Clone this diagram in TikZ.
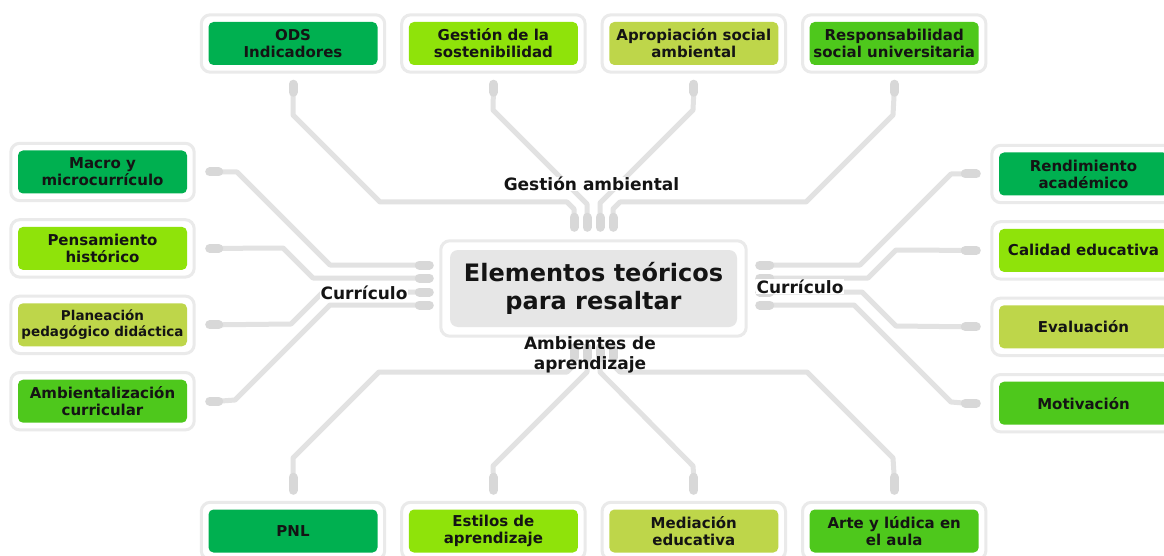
\documentclass[tikz,border=0pt]{standalone}
\usepackage{fontspec}
\setmainfont{DejaVu Sans}
\usetikzlibrary{positioning,fit,calc}

\definecolor{leafdark}{HTML}{00B050}
\definecolor{leaflime}{HTML}{8FE30A}
\definecolor{leafolive}{HTML}{BED64A}
\definecolor{leafgreen}{HTML}{4EC81C}
\definecolor{wire}{HTML}{E2E2E2}
\definecolor{pinwire}{HTML}{D8D8D8}
\definecolor{framegray}{HTML}{EAEAEA}
\definecolor{hubgray}{HTML}{E6E6E6}
\definecolor{ink}{HTML}{141414}

\begin{document}
\begin{tikzpicture}[
  x=1pt,
  y=-1pt,
  leafframe/.style={
    rectangle,
    draw=framegray,
    line width=3pt,
    inner sep=7pt,
    rounded corners=9pt
  },
  leaf/.style={
    rectangle,
    text=ink,
    minimum width=169pt,
    minimum height=43pt,
    inner sep=1pt,
    font=\fontsize{15}{17}\selectfont\bfseries,
    align=center,
    rounded corners=5pt,
    append after command={
      \pgfextra{\let\leafnode=\tikzlastnode}
      node[leafframe, fit=(\leafnode)] {}
    }
  },
  smallleaf/.style={
    leaf,
    font=\fontsize{13.5}{16}\selectfont\bfseries
  },
  hubbox/.style={
    rectangle,
    fill=hubgray,
    text=ink,
    minimum width=287pt,
    minimum height=77pt,
    font=\fontsize{24}{28}\selectfont\bfseries,
    align=center,
    rounded corners=8pt
  },
  hubtag/.style={
    text=ink,
    inner sep=0.5pt,
    font=\fontsize{17}{20}\selectfont\bfseries,
    align=center
  },
  wireline/.style={
    draw=wire,
    line width=5pt,
    line join=round
  },
  pinline/.style={
    draw=pinwire,
    line width=9pt,
    line cap=round
  }
]

% Canvas
\useasboundingbox (0,0) rectangle (1164,556);
\clip (0,0) rectangle (1164,556);
\fill[white] (0,0) rectangle (1164,556);

% Central node
\node[hubbox] (hub) at (593.5,288.5) {Elementos teóricos\\para resaltar};
\node[leafframe, inner sep=9pt, fit=(hub)] (hubframe) {};

% Top row: gestion ambiental
\node[leaf, fill=leafdark] (ods) at (293,43.5) {ODS\\Indicadores};
\node[leaf, fill=leaflime, right=31pt of ods] (sost) {Gestión de la\\sostenibilidad};
\node[leaf, fill=leafolive, right=31pt of sost] (aprop) {Apropiación social\\ambiental};
\node[leaf, fill=leafgreen, right=31pt of aprop] (resp) {Responsabilidad\\social universitaria};

% Left column: curriculo
\node[leaf, fill=leafdark] (macro) at (102.5,172) {Macro y\\microcurrículo};
\node[leaf, fill=leaflime, below=33pt of macro] (pens) {Pensamiento\\histórico};
\node[smallleaf, fill=leafolive, below=33pt of pens] (plan) {Planeación\\pedagógico didáctica};
\node[leaf, fill=leafgreen, below=33pt of plan] (amb) {Ambientalización\\curricular};

% Right column: curriculo
\node[leaf, fill=leafdark] (rend) at (1083.5,174) {Rendimiento\\académico};
\node[leaf, fill=leaflime, below=33pt of rend] (cal) {Calidad educativa};
\node[leaf, fill=leafolive, below=33pt of cal] (eval) {Evaluación};
\node[leaf, fill=leafgreen, below=33pt of eval] (mot) {Motivación};

% Bottom row: ambientes de aprendizaje
\node[leaf, fill=leafdark] (pnl) at (293,531) {PNL};
\node[leaf, fill=leaflime, right=31pt of pnl] (estilos) {Estilos de\\aprendizaje};
\node[leaf, fill=leafolive, right=31pt of estilos] (mediacion) {Mediación\\educativa};
\node[leaf, fill=leafgreen, right=31pt of mediacion] (arte) {Arte y lúdica en\\el aula};

% Pin ends on the leaves
\coordinate (odsP) at ($(ods.south)+(0,27)$);
\coordinate (sostP) at ($(sost.south)+(0,27)$);
\coordinate (apropP) at ($(aprop.south)+(0,27)$);
\coordinate (respP) at ($(resp.south)+(0,27)$);
\coordinate (macroP) at ($(macro.east)+(31.5,0)$);
\coordinate (pensP) at ($(pens.east)+(31.5,0)$);
\coordinate (planP) at ($(plan.east)+(31.5,0)$);
\coordinate (ambP) at ($(amb.east)+(31.5,0)$);
\coordinate (rendP) at ($(rend.west)+(-33.5,0)$);
\coordinate (calP) at ($(cal.west)+(-33.5,0)$);
\coordinate (evalP) at ($(eval.west)+(-33.5,0)$);
\coordinate (motP) at ($(mot.west)+(-33.5,0)$);
\coordinate (pnlP) at ($(pnl.north)+(0,-32)$);
\coordinate (estilosP) at ($(estilos.north)+(0,-32)$);
\coordinate (mediacionP) at ($(mediacion.north)+(0,-32)$);
\coordinate (arteP) at ($(arte.north)+(0,-32)$);

% Pin ends on the central node
\coordinate (hubN1) at ($(hub.north)+(-19.5,-32.5)$);
\coordinate (hubN2) at ($(hub.north)+(-6.5,-32.5)$);
\coordinate (hubN3) at ($(hub.north)+(6.5,-32.5)$);
\coordinate (hubN4) at ($(hub.north)+(19.5,-32.5)$);
\coordinate (hubS1) at ($(hub.south)+(-19.5,30.5)$);
\coordinate (hubS2) at ($(hub.south)+(-6.5,30.5)$);
\coordinate (hubS3) at ($(hub.south)+(6.5,30.5)$);
\coordinate (hubS4) at ($(hub.south)+(19.5,30.5)$);
\coordinate (hubW1) at ($(hub.west)+(-30.5,-23.5)$);
\coordinate (hubW2) at ($(hub.west)+(-30.5,-10.5)$);
\coordinate (hubW3) at ($(hub.west)+(-30.5,3.5)$);
\coordinate (hubW4) at ($(hub.west)+(-30.5,16.5)$);
\coordinate (hubE1) at ($(hub.east)+(32.5,-23.5)$);
\coordinate (hubE2) at ($(hub.east)+(32.5,-10.5)$);
\coordinate (hubE3) at ($(hub.east)+(32.5,3.5)$);
\coordinate (hubE4) at ($(hub.east)+(32.5,16.5)$);

% Top wires
\draw[wireline] (odsP) -- (293,115) -- (380,202) -- (567,202) -- (574,209) -- (hubN1);
\draw[wireline] (sostP) -- (493,110) -- (587,204) -- (hubN2);
\draw[wireline] (apropP) -- (693,110) -- (600,203) -- (hubN3);
\draw[wireline] (respP) -- (893,115) -- (806,202) -- (620,202) -- (613,209) -- (hubN4);

% Left wires
\draw[wireline] (macroP) -- (237,172) -- (330,265) -- (hubW1);
\draw[wireline] (pensP) -- (283,248) -- (313,278) -- (hubW2);
\draw[wireline] (planP) -- (291,324) -- (323,292) -- (hubW3);
\draw[wireline] (ambP) -- (235,400) -- (330,305) -- (hubW4);

% Right wires
\draw[wireline] (rendP) -- (951,174) -- (860,265) -- (hubE1);
\draw[wireline] (calP) -- (896,250) -- (868,278) -- (hubE2);
\draw[wireline] (evalP) -- (896,326) -- (862,292) -- (hubE3);
\draw[wireline] (motP) -- (951,402) -- (854,305) -- (hubE4);

% Bottom wires
\draw[wireline] (pnlP) -- (293,458) -- (379,372) -- (567,372) -- (574,365) -- (hubS1);
\draw[wireline] (estilosP) -- (493,466) -- (587,372) -- (hubS2);
\draw[wireline] (mediacionP) -- (693,466) -- (600,372) -- (hubS3);
\draw[wireline] (arteP) -- (893,458) -- (807,372) -- (620,372) -- (613,365) -- (hubS4);

% Pins
\draw[pinline] (odsP) -- ++(0,-8);
\draw[pinline] (sostP) -- ++(0,-8);
\draw[pinline] (apropP) -- ++(0,-8);
\draw[pinline] (respP) -- ++(0,-8);
\draw[pinline] (macroP) -- ++(-9,0);
\draw[pinline] (pensP) -- ++(-9,0);
\draw[pinline] (planP) -- ++(-9,0);
\draw[pinline] (ambP) -- ++(-9,0);
\draw[pinline] (rendP) -- ++(11,0);
\draw[pinline] (calP) -- ++(11,0);
\draw[pinline] (evalP) -- ++(11,0);
\draw[pinline] (motP) -- ++(11,0);
\draw[pinline] (pnlP) -- ++(0,13);
\draw[pinline] (estilosP) -- ++(0,13);
\draw[pinline] (mediacionP) -- ++(0,13);
\draw[pinline] (arteP) -- ++(0,13);
\draw[pinline] (hubN1) -- ++(0,10);
\draw[pinline] (hubN2) -- ++(0,10);
\draw[pinline] (hubN3) -- ++(0,10);
\draw[pinline] (hubN4) -- ++(0,10);
\draw[pinline] (hubS1) -- ++(0,-10);
\draw[pinline] (hubS2) -- ++(0,-10);
\draw[pinline] (hubS3) -- ++(0,-10);
\draw[pinline] (hubS4) -- ++(0,-10);
\draw[pinline] (hubW1) -- ++(10,0);
\draw[pinline] (hubW2) -- ++(10,0);
\draw[pinline] (hubW3) -- ++(10,0);
\draw[pinline] (hubW4) -- ++(10,0);
\draw[pinline] (hubE1) -- ++(-10,0);
\draw[pinline] (hubE2) -- ++(-10,0);
\draw[pinline] (hubE3) -- ++(-10,0);
\draw[pinline] (hubE4) -- ++(-10,0);

% Branch labels
\node[hubtag, fill=white] (tagtop) at (591.5,184) {Gestión ambiental};
\node[hubtag, fill=white] (tagleft) at (364,293) {Currículo};
\node[hubtag, fill=white] (tagright) at (800,286.5) {Currículo};
\node[hubtag] (tagbottom) at (590,355) {Ambientes de\\aprendizaje};

\end{tikzpicture}
\end{document}
